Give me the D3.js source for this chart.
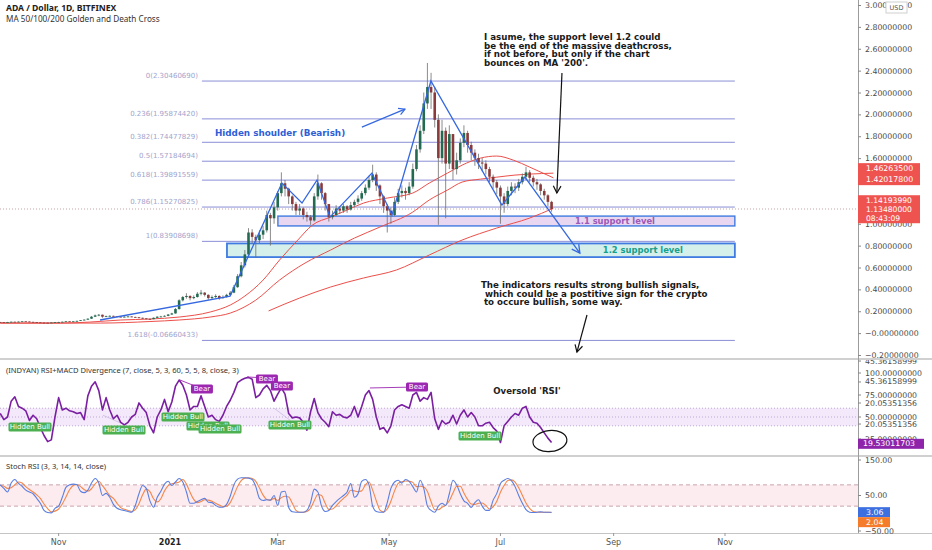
<!DOCTYPE html>
<html>
<head>
<meta charset="utf-8">
<script src="https://cdn.jsdelivr.net/npm/d3@7"></script>
<style>
html, body { margin: 0; padding: 0; background: #fff; }
svg { display: block; }
text { font-family: "DejaVu Sans", sans-serif; }
</style>
</head>
<body>
<div id="chart"></div>
<script>
'use strict';

// ------------ DATA ---------------------------------------- //

// candles: one every 2 days, day offsets counted from 2021-01-01
const CANDLE_START_DAY = -93;
const CANDLE_STEP      = 2;
const FIRST_OPEN       = 0.101;

const closes = [
    .100,.098,.101,.104,.102,.105,.108,.106,.103,.100, .098,.096,.095,.094,.097,.100,.101,.104,.108,.106,
    .108,.112,.118,.123,.132,.150,.162,.168,.150,.155, .158,.154,.150,.148,.150,.152,.148,.145,.140,.135,
    .130,.128,.140,.150,.152,.158,.170,.180,.220,.300, .330,.340,.320,.330,.360,.370,.350,.320,.330,.340,
    .320,.330,.350,.370,.420,.520,.620,.720,.920,.880, .850,.900,.940,1.08,1.05,1.15,1.28,1.37,1.32,1.25,
    1.18,1.12,1.14,1.08,1.06,1.03,1.25,1.37,1.28,1.18, 1.06,1.08,1.14,1.12,1.16,1.13,1.17,1.20,1.23,1.28,
    1.33,1.40,1.45,1.35,1.25,1.16,1.12,1.08,1.20,1.28, 1.30,1.28,1.34,1.50,1.68,1.85,2.10,2.25,2.20,1.95,
    1.60,1.85,1.55,1.82,1.50,1.58,1.74,1.83,1.72,1.65, 1.60,1.56,1.55,1.50,1.43,1.38,1.33,1.25,1.18,1.30,
    1.34,1.33,1.38,1.43,1.47,1.42,1.38,1.36,1.30,1.26, 1.20,1.135
];
const highs = [
    .103,.102,.103,.106,.105,.107,.110,.109,.107,.104, .101,.099,.097,.097,.099,.102,.104,.106,.110,.110,
    .111,.114,.120,.126,.135,.156,.170,.175,.170,.160, .163,.160,.157,.153,.155,.157,.154,.150,.147,.142,
    .137,.133,.144,.154,.158,.163,.175,.186,.230,.310, .340,.365,.345,.345,.375,.395,.375,.355,.345,.355,
    .345,.345,.360,.385,.440,.540,.650,.760,.960,.950, .900,.940,.980,1.12,1.10,1.20,1.30,1.47,1.40,1.33,
    1.26,1.20,1.18,1.15,1.11,1.08,1.28,1.45,1.38,1.29, 1.18,1.12,1.17,1.16,1.18,1.17,1.20,1.22,1.26,1.30,
    1.36,1.44,1.54,1.47,1.36,1.26,1.18,1.15,1.24,1.32, 1.35,1.33,1.38,1.55,1.72,1.90,2.20,2.47,2.38,2.25,
    2.00,1.95,1.88,1.90,1.82,1.65,1.78,1.90,1.85,1.75, 1.68,1.64,1.60,1.58,1.52,1.45,1.40,1.35,1.28,1.34,
    1.38,1.37,1.41,1.46,1.52,1.49,1.44,1.41,1.37,1.32, 1.27,1.21
];
const lows = [
    .097,.096,.097,.100,.100,.101,.104,.104,.101,.098, .096,.094,.092,.092,.093,.096,.099,.100,.103,.104,
    .105,.107,.111,.117,.122,.130,.148,.155,.140,.145, .150,.150,.146,.144,.145,.147,.145,.141,.136,.130,
    .125,.122,.127,.138,.146,.150,.155,.168,.178,.215, .290,.315,.300,.310,.325,.345,.335,.305,.310,.320,
    .305,.315,.325,.345,.365,.415,.510,.600,.700,.820, .690,.820,.860,.920,.800,1.00,1.12,1.25,1.25,1.18,
    1.12,1.08,1.08,1.04,1.02,.990,1.02,1.22,1.22,1.12, 1.02,1.04,1.07,1.09,1.10,1.10,1.12,1.15,1.18,1.21,
    1.26,1.31,1.38,1.30,1.18,1.10,.920,1.00,1.07,1.18, 1.24,1.22,1.26,1.32,1.48,1.65,1.82,2.05,2.05,1.88,
    .990,1.55,1.05,1.50,1.40,1.45,1.55,1.70,1.65,1.58, 1.53,1.50,1.48,1.45,1.38,1.32,1.27,1.00,1.10,1.16,
    1.26,1.28,1.30,1.36,1.40,1.38,1.34,1.31,1.26,1.22, 1.16,1.11
];

// moving averages: day offsets and values
const ma50Days    = [-93,-60,-44,-27,-11,5,22,33,41,51,60,70,78,88,97,106,119,133,142,152,160,170,179,188,197,210];
const ma50Values  = [.092,.092,.101,.120,.129,.147,.193,.257,.339,.485,.668,.851,.988,1.061,1.125,1.189,1.235,1.281,1.372,1.463,1.536,1.600,1.619,1.582,1.518,1.420];
const ma100Days   = [-93,-38,-11,5,22,33,47,60,74,88,101,115,133,142,152,160,170,179,189,197,210];
const ma100Values = [.092,.092,.106,.120,.147,.183,.302,.485,.641,.760,.869,.970,1.107,1.217,1.308,1.381,1.408,1.426,1.445,1.454,1.4626];
const ma200Days   = [54,71,88,106,124,142,160,179,197,210];
const ma200Values = [.203,.321,.422,.504,.577,.714,.851,.961,1.052,1.1419];

// fibonacci retracement
const fibRatios = ['0','0.236','0.382','0.5','0.618','0.786','1','1.618'];
const fibPrices = [2.30460690,1.95874420,1.74477829,1.57184694,1.39891559,1.15270825,0.83908698,-0.06660433];
const fibLabels = ['2.30460690','1.95874420','1.74477829','1.57184694','1.39891559','1.15270825','0.83908698','-0.06660433'];
const FIB_START_DAY = 17.5;
const FIB_END_DAY   = 309.4;

// support boxes
const supportNames  = ['1.1 support level','1.2 support level'];
const supportStart  = [59.1, 31.2];
const supportEnd    = [309.4, 309.4];
const supportTop    = [1.07, 0.82];
const supportBottom = [0.98, 0.695];
const supportTextAt = [243.7, 259];

// hand drawn pattern (day, price)
const zigzagDays   = [-38.3,32.9,61.3,72.3,80.5,87.6,110.6,121.6,142.9,181.8,194.4,224.5];
const zigzagPrices = [0.120,0.339,1.372,1.189,1.399,1.061,1.463,1.080,2.305,1.171,1.427,0.732];

const LAST_PRICE = 1.1348;

// indicators, same 2-day grid as the candles
const rsiValues = [
    54,47,50,68,73,62,60,57,46,52, 48,38,29,22,24,50,72,58,60,57, 56,54,55,47,74,85,90,80,58,72,
    58,48,52,44,41,44,50,53,66,60, 55,40,32,50,58,70,56,67,85,92, 86,75,58,62,62,74,62,50,52,47,
    45,52,62,69,78,89,92,94,95,93, 72,75,82,86,80,68,76,83,76,54, 49,50,49,44,35,56,71,55,48,44,
    39,56,52,53,50,49,52,62,50,62, 75,80,70,50,36,38,32,40,58,62, 64,62,60,75,78,68,72,70,78,48,
    36,46,42,44,52,42,52,58,50,55, 50,40,40,43,44,38,34,21,40,45, 50,54,52,60,62,50,44,43,38,32,
    26,21
];
const stochK = [
    80,70,60,85,95,84,76,65,60,55, 42,28,8,2,1,14,20,45,73,80, 82,80,62,58,65,85,98,85,50,56,
    45,25,14,10,8,5,3,22,55,78, 70,35,17,45,62,82,90,78,88,98, 88,60,28,28,33,38,42,31,30,22,
    17,17,25,48,80,96,100,100,99,95, 75,42,36,38,37,50,22,60,62,17, 4,3,3,3,8,30,68,60,20,5,
    8,22,33,42,50,60,84,45,55,90, 95,80,20,5,3,3,30,70,88,93, 85,95,90,75,60,93,70,20,8,3,
    20,28,22,55,93,80,55,35,28,16, 30,38,20,8,8,37,56,84,93,98, 92,75,50,28,10,3,2,3,4,3,
    3,3
];
const stochD = [
    78,76,70,72,80,88,85,75,67,60, 52,42,26,13,4,6,12,26,46,66, 78,81,75,67,62,69,83,90,78,64,
    50,42,28,16,11,8,5,10,27,52, 68,61,41,32,41,63,78,83,85,88, 95,82,59,39,30,33,38,37,34,28,
    23,19,20,30,51,75,92,99,100,98, 90,71,51,39,37,42,36,44,48,46, 28,8,3,3,5,14,35,53,50,28,
    11,12,21,32,42,51,65,63,61,63, 80,88,65,35,9,4,12,34,63,84, 89,91,90,87,75,76,74,61,33,10,
    10,17,23,35,57,76,76,57,39,26, 25,28,29,22,12,18,34,59,78,92, 94,88,72,51,29,14,5,3,3,3,
    3,2
];

// divergence markers (day, rsi)
const bearDays    = [17.5, 53.1, 61.3, 135.3];
const bearValues  = [81.8, 93.2, 85.2, 84.1];
const bullDays    = [-76.7, -25.2, 7.1, 20.8, 27.4, 65.7, 169.8];
const bullValues  = [38.6, 35.2, 50, 39.8, 36.4, 40.9, 28.4];
const bearLines   = [[5.5,92,16.4,83],[42.2,95.5,53.1,94.3],[109.5,83,133.1,84]];
const bullLines   = [[-36.7,52,-24.6,41],[57,60,66,46]];

// axis ticks and labels (1.4 and 1.2 sit under the price tags)
const priceTicks  = [3.0,2.8,2.6,2.4,2.2,2.0,1.8,1.6,1.0,0.8,0.6,0.4,0.2,0,-0.2];
const priceLabels = ['3.00000000','2.80000000','2.60000000','2.40000000','2.20000000','2.00000000','1.80000000',
    '1.60000000','1.00000000','0.80000000','0.60000000','0.40000000','0.20000000',
    '\u22120.00000000','\u22120.20000000'];
const rsiTicks    = [100, 75, 50, 25];
const rsiLabels   = ['100.00000000','75.00000000','50.00000000','25.00000000'];
const rsiExtra    = [[113.6,'45.36158999'],[89.8,'45.36158999'],[65.9,'20.05351356'],[42,'20.05351356']];
const stochTicks  = [150, 50, -50];
const stochLabels = ['150.00','50.00','\u221250.00'];
const timeTicks   = [-61, 0, 59, 120, 181, 243, 304];
const timeLabels  = ['Nov','2021','Mar','May','Jul','Sep','Nov'];

const noteTop    = ['I asume, the support level 1.2 could','be the end of the massive deathcross,',
                    'if not before, but only if the chart',"bounces on MA '200'."];
const noteBottom = ['The indicators results strong bullish signals,','which could be a postitive sign for the crypto',
                    'to occure bullish, some way.'];

// ------------ CONSTANTS ---------------- //

const WIDTH   = 932;
const HEIGHT  = 550;
const PLOT_R  = 858;
const BASE    = new Date(2021, 0, 1);

const COLORS = {
    up      : '#236b50',
    down    : '#8a3a3a',
    wick    : '#6d6d6d',
    ma      : '#ec4f4a',
    fib     : '#8a8ed6',
    fibText : '#a1a3cc',
    zigzag  : '#3568e0',
    rsi     : '#7b1fa2',
    k       : '#5b7fe0',
    d       : '#f4874b',
    axis    : '#4a4a4a'
};

// -------------  UTILS ------------- //

const dayToDate = d => new Date(BASE.getTime() + d * 864e5);
const gridDate  = i => dayToDate(CANDLE_START_DAY + i * CANDLE_STEP);

const x      = d3.scaleTime().domain([dayToDate(0), dayToDate(304)]).range([170, 725]);
const yMain  = d3.scaleLinear().domain([-0.2, 3.0]).range([355, 5]);
const yRsi   = d3.scaleLinear().domain([0, 100]).range([461, 373]);
const yStoch = d3.scaleLinear().domain([-50, 150]).range([531, 460]);

const xd = d => x(dayToDate(d));

const arrowHead = (g, x1, y1, x2, y2, size, color, width) => {
    const a = Math.atan2(y2 - y1, x2 - x1);
    const spread = 0.5;
    const p = [
        [x2 - size * Math.cos(a - spread), y2 - size * Math.sin(a - spread)],
        [x2, y2],
        [x2 - size * Math.cos(a + spread), y2 - size * Math.sin(a + spread)]
    ];
    g.append('path').attr('d', d3.line()(p)).attr('fill', 'none')
        .attr('stroke', color).attr('stroke-width', width);
};

const labelBox = (g, cx, cy, text, fill, w, h, size) => {
    g.append('rect').attr('x', cx - w / 2).attr('y', cy - h / 2).attr('width', w).attr('height', h)
        .attr('rx', 1.5).attr('fill', fill);
    g.append('text').attr('x', cx).attr('y', cy).attr('text-anchor', 'middle')
        .attr('dominant-baseline', 'central').attr('font-size', size).attr('fill', '#fff').text(text);
};

// ---------------  DRAWING ------------- //

const svg = d3.select('#chart').append('svg').attr('width', WIDTH).attr('height', HEIGHT);

const defs = svg.append('defs');
[['clipMain', 0, 0, PLOT_R, 359], ['clipRsi', 0, 360, PLOT_R, 95], ['clipStoch', 0, 457, PLOT_R, 76],
 ['clipRsiAxis', PLOT_R, 360, 74, 95]].forEach(([id, cx, cy, w, h]) => {
    defs.append('clipPath').attr('id', id).append('rect').attr('x', cx).attr('y', cy).attr('width', w).attr('height', h);
});

const drawMain = () => {
    const g = svg.append('g').attr('clip-path', 'url(#clipMain)');

    // support boxes
    supportNames.forEach((name, i) => {
        const x0 = xd(supportStart[i]), x1 = xd(supportEnd[i]);
        const y0 = yMain(supportTop[i]), y1 = yMain(supportBottom[i]);
        g.append('rect').attr('x', x0).attr('y', y0).attr('width', x1 - x0).attr('height', y1 - y0)
            .attr('fill', i === 0 ? '#e9d6f0' : '#d5efea')
            .attr('stroke', '#3f7be0').attr('stroke-width', i === 0 ? 1.4 : 1.8);
    });

    // fibonacci levels
    fibPrices.forEach((p, i) => {
        const yy = yMain(p);
        g.append('line').attr('x1', xd(FIB_START_DAY)).attr('x2', xd(FIB_END_DAY))
            .attr('y1', yy).attr('y2', yy).attr('stroke', COLORS.fib).attr('stroke-width', 1);
        g.append('text').attr('x', xd(FIB_START_DAY) - 4).attr('y', yy - 3)
            .attr('text-anchor', 'end').attr('font-size', 7).attr('fill', COLORS.fibText)
            .text(`${fibRatios[i]}(${fibLabels[i]})`);
    });

    // last price line
    g.append('line').attr('x1', 0).attr('x2', PLOT_R).attr('y1', yMain(LAST_PRICE)).attr('y2', yMain(LAST_PRICE))
        .attr('stroke', '#c9a3a3').attr('stroke-dasharray', '1,2');

    // moving averages
    const maLine = d3.line().x(d => xd(d[0])).y(d => yMain(d[1])).curve(d3.curveMonotoneX);
    [[ma50Days, ma50Values], [ma100Days, ma100Values], [ma200Days, ma200Values]].forEach(([days, vals]) => {
        g.append('path').attr('d', maLine(d3.zip(days, vals)))
            .attr('fill', 'none').attr('stroke', COLORS.ma).attr('stroke-width', 1);
    });

    // candles
    const candles = closes.map((c, i) => {
        const open = i ? closes[i - 1] : FIRST_OPEN;
        return {
            date : gridDate(i), open, close : c,
            high : Math.max(highs[i], open, c), low : Math.min(lows[i], open, c)
        };
    });
    const cg = g.selectAll('.candle').data(candles).enter().append('g').attr('class', 'candle');
    cg.append('line')
        .attr('x1', d => x(d.date)).attr('x2', d => x(d.date))
        .attr('y1', d => yMain(d.high)).attr('y2', d => yMain(d.low))
        .attr('stroke', COLORS.wick).attr('stroke-width', 0.8);
    cg.append('rect')
        .attr('x', d => x(d.date) - 1.3).attr('width', 2.6)
        .attr('y', d => yMain(Math.max(d.open, d.close)))
        .attr('height', d => Math.max(0.8, Math.abs(yMain(d.open) - yMain(d.close))))
        .attr('fill', d => d.close >= d.open ? COLORS.up : COLORS.down);

    // pattern zigzag
    const pts = zigzagDays.map((d, i) => [xd(d), yMain(zigzagPrices[i])]);
    g.append('path').attr('d', d3.line()(pts)).attr('fill', 'none')
        .attr('stroke', COLORS.zigzag).attr('stroke-width', 1.3);
    const [pa, pb] = pts.slice(-2);
    arrowHead(g, pa[0], pa[1], pb[0], pb[1], 9, COLORS.zigzag, 1.3);

    // hidden shoulder note
    g.append('text').attr('x', xd(24.6)).attr('y', yMain(1.829)).attr('dominant-baseline', 'central')
        .attr('font-size', 8.8).attr('font-weight', 'bold').attr('fill', '#2f5fd6')
        .text('Hidden shoulder (Bearish)');
    const s1 = [xd(105.1), yMain(1.883)], s2 = [xd(128.7), yMain(2.048)];
    g.append('line').attr('x1', s1[0]).attr('y1', s1[1]).attr('x2', s2[0]).attr('y2', s2[1])
        .attr('stroke', COLORS.zigzag).attr('stroke-width', 1.2);
    arrowHead(g, s1[0], s1[1], s2[0], s2[1], 7, COLORS.zigzag, 1.2);

    // support texts
    supportNames.forEach((name, i) => {
        g.append('text').attr('x', xd(supportTextAt[i]))
            .attr('y', yMain((supportTop[i] + supportBottom[i]) / 2))
            .attr('text-anchor', 'middle').attr('dominant-baseline', 'central')
            .attr('font-size', 8.4).attr('font-weight', 'bold')
            .attr('fill', i === 0 ? '#9c59b8' : '#17a08b').text(name);
    });

    // black notes and arrows
    noteTop.forEach((line, i) => {
        g.append('text').attr('x', xd(172)).attr('y', yMain(2.707) + i * 8.6)
            .attr('dominant-baseline', 'central').attr('font-size', 8.7).attr('font-weight', 'bold')
            .attr('fill', '#1a1a1a').text(line);
    });
    noteBottom.forEach((line, i) => {
        g.append('text').attr('x', xd(170.3) + [0, 4, 3][i]).attr('y', yMain(0.44) + i * 8.6)
            .attr('dominant-baseline', 'central').attr('font-size', 8.7).attr('font-weight', 'bold')
            .attr('fill', '#1a1a1a').text(line);
    });
    [[214.7, 2.378, 211.9, 1.281], [228.4, 0.166, 222.9, -0.173]].forEach(([d1, p1, d2, p2]) => {
        const a = [xd(d1), yMain(p1)], b = [xd(d2), yMain(p2)];
        g.append('line').attr('x1', a[0]).attr('y1', a[1]).attr('x2', b[0]).attr('y2', b[1])
            .attr('stroke', '#111').attr('stroke-width', 1.2);
        arrowHead(g, a[0], a[1], b[0], b[1], 8, '#111', 1.2);
    });

    // titles
    svg.append('text').attr('x', 6).attr('y', 8).attr('dominant-baseline', 'central')
        .style('font-family', '"Noto Sans", sans-serif').attr('font-size', 8.6).attr('font-weight', 'bold')
        .attr('fill', '#222').text('ADA / Dollar, 1D, BITFINEX');
    svg.append('text').attr('x', 6).attr('y', 18).attr('dominant-baseline', 'central')
        .style('font-family', '"Noto Sans", sans-serif').attr('font-size', 8.2)
        .attr('fill', '#333').text('MA 50/100/200 Golden and Death Cross');
};

const drawRsi = () => {
    const g = svg.append('g').attr('clip-path', 'url(#clipRsi)');

    g.append('rect').attr('x', 0).attr('width', PLOT_R).attr('y', yRsi(60)).attr('height', yRsi(40) - yRsi(60))
        .attr('fill', '#f3e9fb');
    [60, 50, 40].forEach(v => {
        g.append('line').attr('x1', 0).attr('x2', PLOT_R).attr('y1', yRsi(v)).attr('y2', yRsi(v))
            .attr('stroke', '#bfa9d6').attr('stroke-dasharray', '1,2');
    });

    bullLines.forEach(([d1, v1, d2, v2]) => {
        g.append('line').attr('x1', xd(d1)).attr('y1', yRsi(v1)).attr('x2', xd(d2)).attr('y2', yRsi(v2))
            .attr('stroke', '#cdb8e0').attr('stroke-width', 0.8);
    });

    const line = d3.line().x((d, i) => x(gridDate(i))).y(d => yRsi(d));
    g.append('path').attr('d', line(rsiValues)).attr('fill', 'none')
        .attr('stroke', COLORS.rsi).attr('stroke-width', 1.6).attr('stroke-linejoin', 'round');

    bearLines.forEach(([d1, v1, d2, v2]) => {
        g.append('line').attr('x1', xd(d1)).attr('y1', yRsi(v1)).attr('x2', xd(d2)).attr('y2', yRsi(v2))
            .attr('stroke', '#9c27b0').attr('stroke-width', 0.9);
    });

    bullDays.forEach((d, i) => labelBox(g, xd(d), yRsi(bullValues[i]), 'Hidden Bull', '#4caf50', 43, 9, 7));
    bearDays.forEach((d, i) => labelBox(g, xd(d), yRsi(bearValues[i]), 'Bear', '#9c27b0', 22, 9, 7));

    g.append('text').attr('x', xd(195.5)).attr('y', yRsi(79.5)).attr('text-anchor', 'middle')
        .attr('dominant-baseline', 'central').attr('font-size', 8.6).attr('font-weight', 'bold')
        .attr('fill', '#222').text("Oversold 'RSI'");

    g.append('ellipse').attr('cx', xd(208.1)).attr('cy', yRsi(22.7)).attr('rx', 17).attr('ry', 10.5)
        .attr('transform', `rotate(-6 ${xd(208.1)} ${yRsi(22.7)})`)
        .attr('fill', 'none').attr('stroke', '#111').attr('stroke-width', 1.2);

    svg.append('text').attr('x', 6).attr('y', 370).attr('dominant-baseline', 'central')
        .style('font-family', '"Noto Sans", sans-serif').attr('font-size', 7.6).attr('fill', '#333')
        .text('(INDYAN) RSI+MACD Divergence (7, close, 5, 3, 60, 5, 5, 8, close, 3)');
};

const drawStoch = () => {
    const g = svg.append('g').attr('clip-path', 'url(#clipStoch)');

    g.append('rect').attr('x', 0).attr('width', PLOT_R).attr('y', yStoch(80)).attr('height', yStoch(20) - yStoch(80))
        .attr('fill', '#fcebef');
    [80, 20].forEach(v => {
        g.append('line').attr('x1', 0).attr('x2', PLOT_R).attr('y1', yStoch(v)).attr('y2', yStoch(v))
            .attr('stroke', '#c7a6ae').attr('stroke-dasharray', '4,3');
    });

    const line = d3.line().x((d, i) => x(gridDate(i))).y(d => yStoch(d)).curve(d3.curveMonotoneX);
    g.append('path').attr('d', line(stochD)).attr('fill', 'none').attr('stroke', COLORS.d).attr('stroke-width', 1.1);
    g.append('path').attr('d', line(stochK)).attr('fill', 'none').attr('stroke', COLORS.k).attr('stroke-width', 1.1);

    svg.append('text').attr('x', 6).attr('y', 466).attr('dominant-baseline', 'central')
        .style('font-family', '"Noto Sans", sans-serif').attr('font-size', 7.6).attr('fill', '#333')
        .text('Stoch RSI (3, 3, 14, 14, close)');
};

const drawAxes = () => {
    const g = svg.append('g');

    // separators
    [359, 456].forEach(yy => {
        g.append('line').attr('x1', 0).attr('x2', WIDTH).attr('y1', yy).attr('y2', yy)
            .attr('stroke', '#d0d0d0').attr('stroke-width', 2);
    });
    g.append('line').attr('x1', 0).attr('x2', WIDTH).attr('y1', 533.5).attr('y2', 533.5)
        .attr('stroke', '#c4c4c4');
    g.append('line').attr('x1', PLOT_R + 0.5).attr('x2', PLOT_R + 0.5).attr('y1', 0).attr('y2', 533)
        .attr('stroke', '#9c9c9c');

    // price axis
    const priceAxis = d3.axisRight(yMain).tickValues(priceTicks).tickSize(3).tickPadding(4)
        .tickFormat((d, i) => priceLabels[i]);
    const pa = g.append('g').attr('transform', `translate(${PLOT_R},0)`).call(priceAxis);
    pa.select('.domain').remove();
    pa.selectAll('line').attr('stroke', '#888');
    pa.selectAll('text').attr('font-size', 7.8).attr('fill', COLORS.axis).style('font-family', '"DejaVu Sans"');

    // usd badge
    g.append('rect').attr('x', 886).attr('y', 2).attr('width', 21).attr('height', 11)
        .attr('fill', '#fff').attr('stroke', '#cfcfcf');
    g.append('text').attr('x', 896.5).attr('y', 7.5).attr('text-anchor', 'middle').attr('dominant-baseline', 'central')
        .attr('font-size', 6.5).attr('fill', '#555').text('USD');

    // price tags
    const top1 = yMain(1.462635) - 10;
    g.append('rect').attr('x', PLOT_R).attr('y', top1).attr('width', 62).attr('height', 22).attr('fill', '#ef5350');
    ['1.46263500', '1.42017800'].forEach((t, i) => {
        g.append('text').attr('x', 866).attr('y', top1 + 5.5 + i * 11).attr('dominant-baseline', 'central')
            .attr('font-size', 7.8).attr('fill', '#fff').text(t);
    });
    const top2 = yMain(1.1419399) - 13;
    g.append('rect').attr('x', PLOT_R).attr('y', top2).attr('width', 62).attr('height', 28).attr('fill', '#ef5350');
    ['1.14193990', '1.13480000', '08:43:09'].forEach((t, i) => {
        g.append('text').attr('x', 866).attr('y', top2 + 5 + i * 9.2).attr('dominant-baseline', 'central')
            .attr('font-size', 7.6).attr('fill', '#fff').text(t);
    });

    // rsi axis
    const ra = g.append('g').attr('clip-path', 'url(#clipRsiAxis)');
    rsiTicks.forEach((v, i) => {
        ra.append('line').attr('x1', PLOT_R).attr('x2', PLOT_R + 3).attr('y1', yRsi(v)).attr('y2', yRsi(v)).attr('stroke', '#888');
        ra.append('text').attr('x', 865).attr('y', yRsi(v)).attr('dominant-baseline', 'central')
            .attr('font-size', 7.8).attr('fill', COLORS.axis).text(rsiLabels[i]);
    });
    rsiExtra.forEach(([v, t]) => {
        ra.append('rect').attr('x', 862).attr('y', yRsi(v) - 4).attr('width', 66).attr('height', 8).attr('fill', '#fff');
        ra.append('line').attr('x1', PLOT_R).attr('x2', PLOT_R + 3).attr('y1', yRsi(v)).attr('y2', yRsi(v)).attr('stroke', '#888');
        ra.append('text').attr('x', 865).attr('y', yRsi(v)).attr('dominant-baseline', 'central')
            .attr('font-size', 7.8).attr('fill', COLORS.axis).text(t);
    });
    ra.append('rect').attr('x', PLOT_R).attr('y', yRsi(19.53) - 5).attr('width', 66).attr('height', 10).attr('fill', '#8e24aa');
    ra.append('text').attr('x', 863).attr('y', yRsi(19.53)).attr('dominant-baseline', 'central')
        .attr('font-size', 7.8).attr('fill', '#fff').text('19.53011703');

    // stoch axis
    stochTicks.forEach((v, i) => {
        g.append('line').attr('x1', PLOT_R).attr('x2', PLOT_R + 3).attr('y1', yStoch(v)).attr('y2', yStoch(v)).attr('stroke', '#888');
        g.append('text').attr('x', 865).attr('y', yStoch(v)).attr('dominant-baseline', 'central')
            .attr('font-size', 7.8).attr('fill', COLORS.axis).text(stochLabels[i]);
    });
    const kLast = yStoch(3.06);
    g.append('rect').attr('x', PLOT_R).attr('y', kLast - 5).attr('width', 32).attr('height', 10).attr('fill', '#3d6fe0');
    g.append('text').attr('x', 866).attr('y', kLast).attr('dominant-baseline', 'central')
        .attr('font-size', 7.8).attr('fill', '#fff').text('3.06');
    g.append('rect').attr('x', PLOT_R).attr('y', kLast + 5).attr('width', 32).attr('height', 10).attr('fill', '#f57c2a');
    g.append('text').attr('x', 866).attr('y', kLast + 10).attr('dominant-baseline', 'central')
        .attr('font-size', 7.8).attr('fill', '#fff').text('2.04');

    // time axis
    timeTicks.forEach((d, i) => {
        const xx = xd(d);
        g.append('line').attr('x1', xx).attr('x2', xx).attr('y1', 533).attr('y2', 536).attr('stroke', '#999');
        g.append('text').attr('x', xx).attr('y', 542).attr('text-anchor', 'middle').attr('dominant-baseline', 'central')
            .attr('font-size', 8).attr('font-weight', timeLabels[i] === '2021' ? 'bold' : 'normal')
            .attr('fill', timeLabels[i] === '2021' ? '#222' : '#555').text(timeLabels[i]);
    });
};

// --------------------   MAIN   ------------------- //

document.addEventListener('DOMContentLoaded', () => {
    drawMain();
    drawRsi();
    drawStoch();
    drawAxes();
});
</script>
</body>
</html>
